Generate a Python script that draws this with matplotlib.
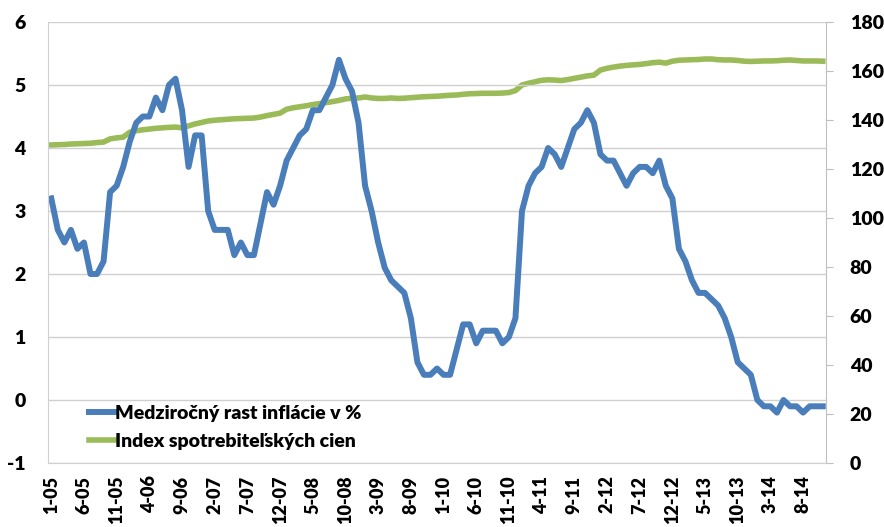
import numpy as np
import matplotlib
matplotlib.use("Agg")
import matplotlib.pyplot as plt

# monthly data, 1-05 .. 11-14
inflacia = [3.2, 2.7, 2.5, 2.7, 2.4, 2.5, 2.0, 2.0, 2.2, 3.3, 3.4, 3.7,
            4.1, 4.4, 4.5, 4.5, 4.8, 4.6, 5.0, 5.1, 4.6, 3.7, 4.2, 4.2,
            3.0, 2.7, 2.7, 2.7, 2.3, 2.5, 2.3, 2.3, 2.8, 3.3, 3.1, 3.4,
            3.8, 4.0, 4.2, 4.3, 4.6, 4.6, 4.8, 5.0, 5.4, 5.1, 4.9, 4.4,
            3.4, 3.0, 2.5, 2.1, 1.9, 1.8, 1.7, 1.3, 0.6, 0.4, 0.4, 0.5,
            0.4, 0.4, 0.8, 1.2, 1.2, 0.9, 1.1, 1.1, 1.1, 0.9, 1.0, 1.3,
            3.0, 3.4, 3.6, 3.7, 4.0, 3.9, 3.7, 4.0, 4.3, 4.4, 4.6, 4.4,
            3.9, 3.8, 3.8, 3.6, 3.4, 3.6, 3.7, 3.7, 3.6, 3.8, 3.4, 3.2,
            2.4, 2.2, 1.9, 1.7, 1.7, 1.6, 1.5, 1.3, 1.0, 0.6, 0.5, 0.4,
            0.0, -0.1, -0.1, -0.2, 0.0, -0.1, -0.1, -0.2, -0.1, -0.1, -0.1]

index_cien = [129.8, 129.9, 130.0, 130.2, 130.3, 130.4, 130.5, 130.8, 131.0, 132.3, 132.7, 133.0,
              135.0, 135.6, 136.0, 136.3, 136.6, 136.8, 137.0, 137.1, 136.8, 137.6, 138.4, 139.0,
              139.6, 139.9, 140.1, 140.3, 140.5, 140.6, 140.7, 140.8, 141.2, 141.8, 142.3, 142.8,
              144.4, 145.0, 145.4, 145.8, 146.3, 146.7, 147.1, 147.5, 148.0, 148.6, 148.9, 149.0,
              149.4, 149.0, 148.8, 148.8, 149.0, 148.8, 148.9, 149.1, 149.3, 149.5, 149.6, 149.7,
              149.9, 150.1, 150.2, 150.5, 150.7, 150.8, 150.9, 150.9, 150.9, 151.0, 151.2, 152.0,
              154.3, 155.0, 155.6, 156.2, 156.4, 156.3, 156.1, 156.5, 157.0, 157.5, 158.0, 158.3,
              160.4, 161.1, 161.6, 162.0, 162.3, 162.5, 162.7, 163.0, 163.4, 163.6, 163.2, 164.0,
              164.4, 164.5, 164.6, 164.7, 164.9, 164.9, 164.6, 164.5, 164.5, 164.3, 164.0, 163.9,
              164.0, 164.1, 164.1, 164.2, 164.4, 164.5, 164.3, 164.1, 164.1, 164.1, 164.0]

mesiace = [f"{m}-{r % 100:02d}" for r in range(2005, 2015) for m in range(1, 13)][:len(inflacia)]

plt.rcParams['font.family'] = ['Lato', 'DejaVu Sans']
plt.rcParams['font.weight'] = 'heavy'
plt.rcParams['axes.unicode_minus'] = False

fig = plt.figure(figsize=(8.84, 5.27), dpi=100)
ax = fig.add_axes([48/884, 1 - 463/527, (826-48)/884, (463-22)/527])
ax2 = ax.twinx()

x = np.arange(len(inflacia))
l1, = ax.plot(x, inflacia, color='#4A7EBB', lw=4.3, solid_joinstyle='round', label='Medziročný rast inflácie v %')
l2, = ax2.plot(x, index_cien, color='#9BBB59', lw=4, solid_joinstyle='round', label='Index spotrebiteľských cien')

ax.set_zorder(ax2.get_zorder() + 1)
ax.patch.set_visible(False)

ax.set_xlim(-0.5, len(inflacia) - 0.5)
ax.set_ylim(-1, 6)
ax.set_yticks(range(-1, 7))
ax2.set_ylim(0, 180)
ax2.set_yticks(range(0, 181, 20))

ax.set_xticks(x[::5])
ax.set_xticklabels(mesiace[::5], rotation=90, fontsize=13, fontweight='heavy')
ax.tick_params(axis='x', length=0, pad=9)
ax.tick_params(axis='y', length=0, pad=16, labelsize=14)
ax2.tick_params(axis='y', length=5, color='#BFBFBF', pad=12, labelsize=14)

ax.grid(axis='y', color='#D0D0D0', lw=1)
for a in (ax, ax2):
    for s in a.spines.values():
        s.set_visible(False)
ax.spines['left'].set_visible(True)
ax.spines['left'].set_color('#D0D0D0')
ax2.spines['right'].set_visible(True)
ax2.spines['right'].set_color('#BFBFBF')
ax.spines['bottom'].set_visible(True)
ax.spines['bottom'].set_color('#D0D0D0')

leg = ax.legend([l1, l2], [l1.get_label(), l2.get_label()], loc='upper left',
                bbox_to_anchor=(0.043, 0.15), frameon=False,
                handlelength=1.25, handletextpad=0.1, labelspacing=0.6,
                borderaxespad=0, prop={'weight': 'heavy', 'size': 14})

fig.savefig('out.png', dpi=100)
